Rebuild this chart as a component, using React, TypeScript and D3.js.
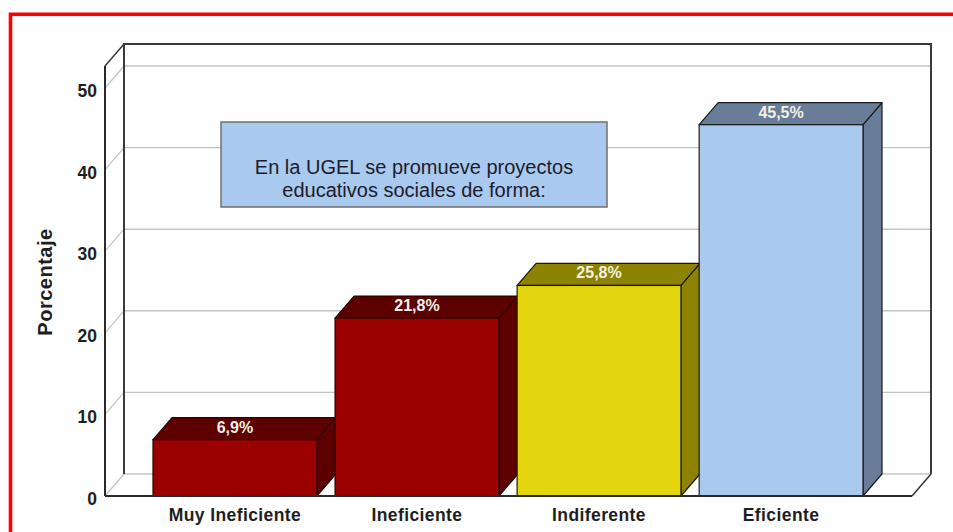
import React from "react";
import * as d3 from "d3";

const categories = ["Muy Ineficiente", "Ineficiente", "Indiferente", "Eficiente"];
const values = [6.9, 21.8, 25.8, 45.5];
const valueLabels = ["6,9%", "21,8%", "25,8%", "45,5%"];
const yTicks = [0, 10, 20, 30, 40, 50];
const frontColors = ["#9b0000", "#9b0000", "#e3d50e", "#a9c9ef"];
const shadeColors = ["#5c0000", "#5c0000", "#8c8300", "#6a7d98"];
const edgeColors = ["#2a0000", "#2a0000", "#1a1a00", "#1a1a1a"];
const noteLines = ["En la UGEL se promueve proyectos", "educativos sociales de forma:"];

const W = 953;
const H = 532;
const DX = 19;
const DY = -22;
const LEFT = 105;
const RIGHT = 912;
const BOTTOM = 496;
const FRONT_TOP = 66;

export default function App() {
  const y = d3.scaleLinear().domain([0, 50]).range([BOTTOM, 88]);
  const x = d3
    .scaleBand<string>()
    .domain(categories)
    .range([153, 863])
    .paddingInner(0.1)
    .paddingOuter(0);
  const bw = x.bandwidth();

  const font = "'Liberation Sans', Arial, Helvetica, sans-serif";

  return (
    <svg
      width={W}
      height={H}
      style={{ position: "absolute", left: 0, top: 0, background: "#fff" }}
      fontFamily={font}
    >
      <rect x={0} y={0} width={W} height={H} fill="#fff" />
      {/* red frame */}
      <rect x={10.5} y={14.3} width={970} height={560} fill="none" stroke="#ff0000" strokeWidth={3.6} />

      {/* gridlines on back wall and left wall */}
      {yTicks.map((t) => (
        <g key={"g" + t}>
          <line
            x1={LEFT + DX}
            x2={RIGHT + DX}
            y1={y(t) + DY}
            y2={y(t) + DY}
            stroke="#c4c4c4"
            strokeWidth={1.4}
          />
          <line
            x1={LEFT}
            x2={LEFT + DX}
            y1={y(t)}
            y2={y(t) + DY}
            stroke="#c4c4c4"
            strokeWidth={1.2}
          />
        </g>
      ))}
      {/* floor right diagonal */}
      <line x1={RIGHT} y1={BOTTOM} x2={RIGHT + DX} y2={BOTTOM + DY} stroke="#333" strokeWidth={1.5} />

      {/* back wall frame */}
      <path
        d={`M${LEFT + DX},${y(0) + DY} L${LEFT + DX},${FRONT_TOP + DY} L${RIGHT + DX},${FRONT_TOP + DY} L${RIGHT + DX},${y(0) + DY}`}
        fill="none"
        stroke="#3a3a3a"
        strokeWidth={2}
      />
      <line x1={LEFT} y1={FRONT_TOP} x2={LEFT + DX} y2={FRONT_TOP + DY} stroke="#3a3a3a" strokeWidth={1.5} />

      {/* note box */}
      <rect x={221} y={122} width={386} height={85} fill="#a9c9ef" stroke="#6f6f6f" strokeWidth={1.5} />
      {noteLines.map((l, i) => (
        <text
          key={l}
          x={414}
          y={174 + i * 23}
          textAnchor="middle"
          fontSize={20}
          fill="#1c1c2c"
        >
          {l}
        </text>
      ))}

      {/* bars */}
      {categories.map((c, i) => {
        const x0 = x(c)!;
        const x1 = x0 + bw;
        const yt = y(values[i]);
        const yb = y(0);
        return (
          <g key={c}>
            <path
              d={`M${x1},${yb} L${x1},${yt} L${x1 + DX},${yt + DY} L${x1 + DX},${yb + DY} Z`}
              fill={shadeColors[i]}
              stroke={edgeColors[i]}
              strokeWidth={1.2}
              strokeLinejoin="round"
            />
            <path
              d={`M${x0},${yt} L${x0 + DX},${yt + DY} L${x1 + DX},${yt + DY} L${x1},${yt} Z`}
              fill={shadeColors[i]}
              stroke={edgeColors[i]}
              strokeWidth={1.2}
              strokeLinejoin="round"
            />
            <rect
              x={x0}
              y={yt}
              width={bw}
              height={yb - yt}
              fill={frontColors[i]}
              stroke={edgeColors[i]}
              strokeWidth={1.2}
            />
            <text
              x={x0 + bw / 2}
              y={yt - 7}
              textAnchor="middle"
              fontSize={16}
              fontWeight="bold"
              fill="#f3f1e4"
            >
              {valueLabels[i]}
            </text>
            <text
              x={x0 + bw / 2}
              y={521}
              textAnchor="middle"
              fontSize={17.5}
              fontWeight="bold"
              letterSpacing={0.4}
              fill="#1e1e1e"
            >
              {c}
            </text>
          </g>
        );
      })}

      {/* front axes */}
      <line x1={LEFT} y1={FRONT_TOP} x2={LEFT} y2={BOTTOM} stroke="#2a2a2a" strokeWidth={2} />
      <line x1={LEFT} y1={BOTTOM} x2={RIGHT} y2={BOTTOM} stroke="#2a2a2a" strokeWidth={2} />

      {/* y tick labels */}
      {yTicks.map((t) => (
        <text
          key={"t" + t}
          x={97}
          y={y(t) + 9}
          textAnchor="end"
          fontSize={17.5}
          fontWeight="bold"
          fill="#1e1e1e"
        >
          {t}
        </text>
      ))}

      {/* y axis title */}
      <text
        transform="translate(52,282) rotate(-90)"
        textAnchor="middle"
        fontSize={20}
        fontWeight="bold"
        letterSpacing={0.5}
        fill="#1e1e1e"
      >
        Porcentaje
      </text>
    </svg>
  );
}
